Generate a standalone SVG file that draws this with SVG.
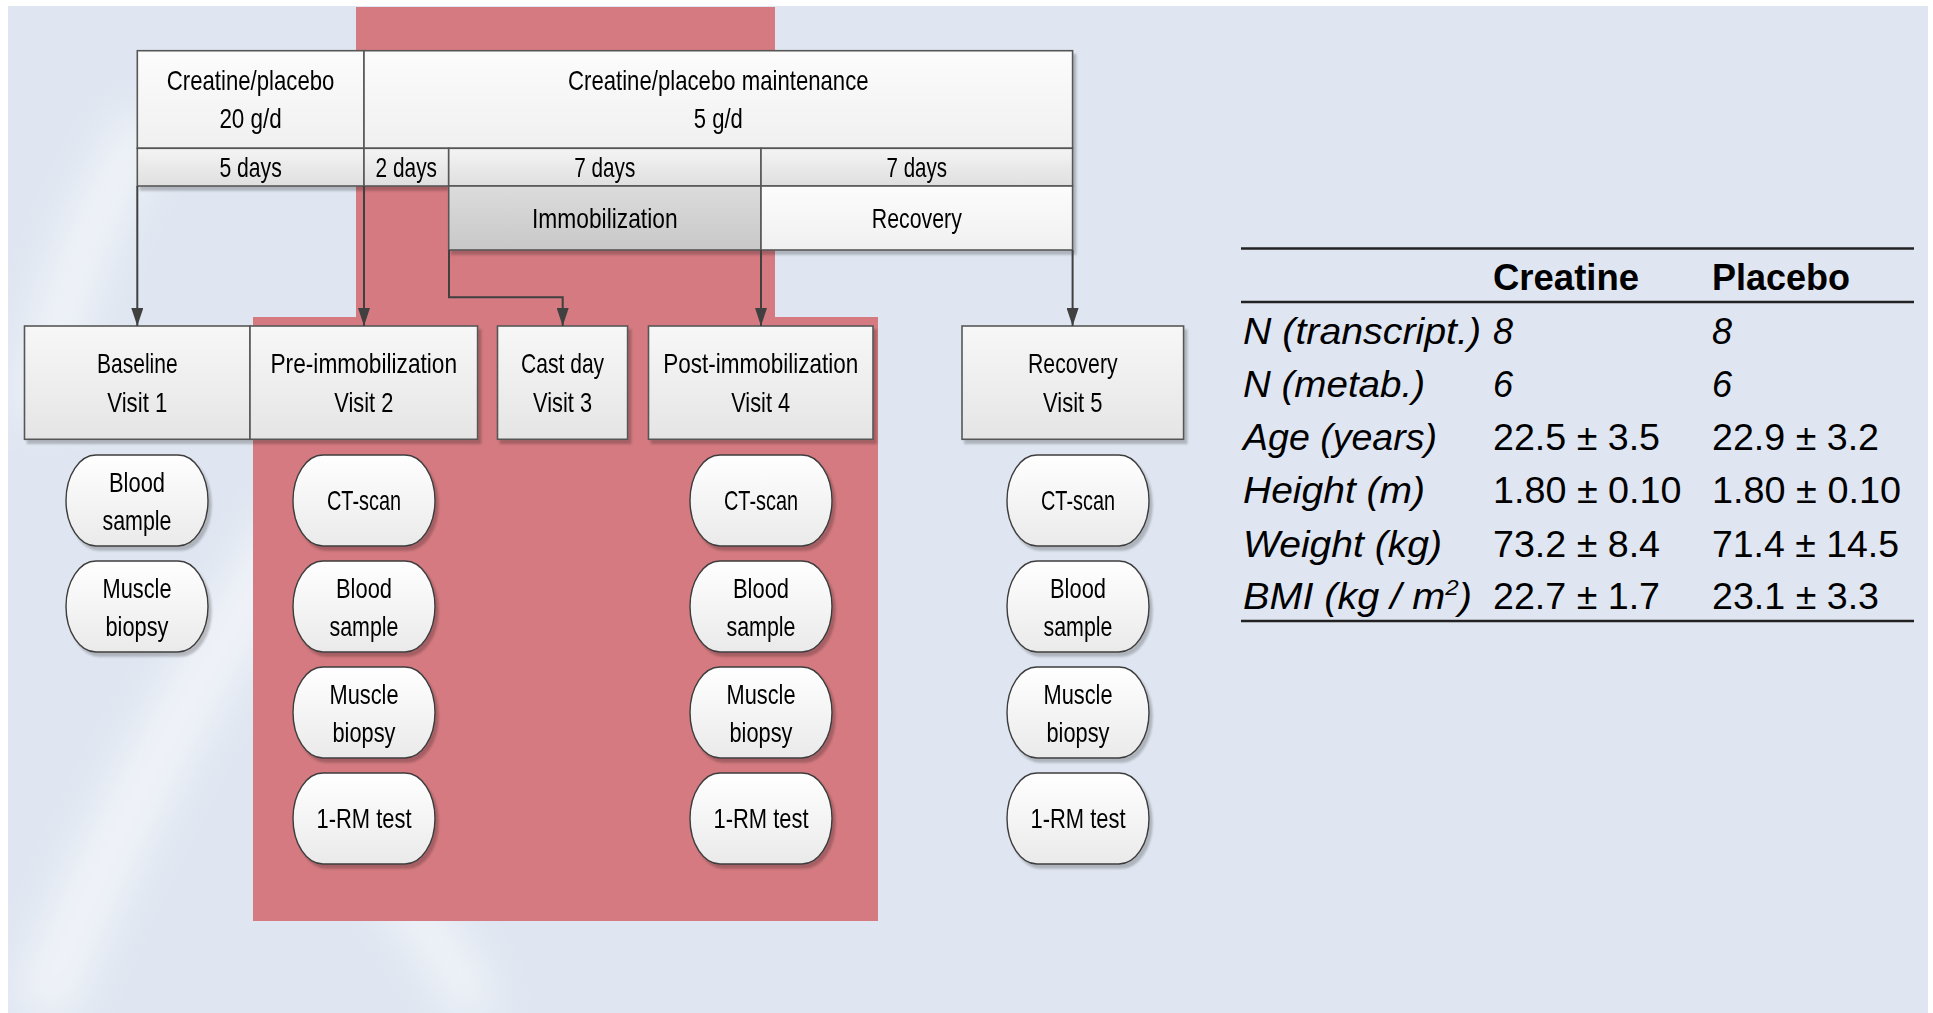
<svg xmlns="http://www.w3.org/2000/svg" width="1933" height="1013" viewBox="0 0 1933 1013">
<style>
.t{font-family:"Liberation Sans",Arial,sans-serif;font-size:28px;fill:#000;text-anchor:middle}
.tb{font-family:"Liberation Sans",Arial,sans-serif;font-size:36px;fill:#000}
.it{font-style:italic}
.bd{font-weight:bold}
.cell{stroke:#575757;stroke-width:1.6}
.box{fill:url(#gVisit);stroke:#575757;stroke-width:1.6}
.oval{fill:url(#gOval);stroke:#3c3c3c;stroke-width:1.4}
.conn{fill:none;stroke:#404040;stroke-width:2;marker-end:url(#ah)}
.rule{stroke:#222;stroke-width:2.6}
</style>
<defs>
<linearGradient id="gTop" x1="0" y1="0" x2="0" y2="1"><stop offset="0" stop-color="#fcfcfc"/><stop offset="1" stop-color="#f0f0f0"/></linearGradient>
<linearGradient id="gDays" x1="0" y1="0" x2="0" y2="1"><stop offset="0" stop-color="#f4f4f4"/><stop offset="1" stop-color="#dfdfdf"/></linearGradient>
<linearGradient id="gImm" x1="0" y1="0" x2="0" y2="1"><stop offset="0" stop-color="#dcdcdc"/><stop offset="1" stop-color="#c8c8c8"/></linearGradient>
<linearGradient id="gVisit" x1="0" y1="0" x2="0" y2="1"><stop offset="0" stop-color="#f7f7f7"/><stop offset="1" stop-color="#e5e5e5"/></linearGradient>
<linearGradient id="gOval" x1="0" y1="0" x2="0" y2="1"><stop offset="0" stop-color="#ffffff"/><stop offset="1" stop-color="#eaeaea"/></linearGradient>
<filter id="sh" x="-10%" y="-10%" width="130%" height="140%"><feDropShadow dx="3" dy="4" stdDeviation="1.2" flood-color="#000" flood-opacity="0.22"/></filter>
<filter id="blur" x="-50%" y="-50%" width="200%" height="200%"><feGaussianBlur stdDeviation="22"/></filter>
<marker id="ah" markerUnits="userSpaceOnUse" viewBox="0 0 18 12" markerWidth="18" markerHeight="12" refX="18" refY="6" orient="auto"><path d="M0,0 L18,6 L0,12 z" fill="#404040"/></marker>
</defs>

<rect x="0" y="0" width="1933" height="1013" fill="#ffffff"/>
<rect x="8" y="6" width="1920" height="1007" fill="#dfe6f1"/>
<g opacity="0.55" filter="url(#blur)" fill="none" stroke="#ffffff">
<path d="M150,120 Q60,260 40,420" stroke-width="50"/>
<path d="M300,520 Q140,760 40,1013" stroke-width="60"/>
<path d="M330,820 Q420,900 480,1013" stroke-width="45"/>
</g>

<path id="immobilization-zone" d="M356,7 H775 V317 H878 V921 H253 V317 H356 Z" fill="#d47a80"/>

<g id="timeline" filter="url(#sh)">
<g id="node-loading"><rect class="cell" x="137.3" y="50.7" width="226.7" height="97.6" fill="url(#gTop)"/>
<text class="t" x="250.6" y="90" textLength="167.6" lengthAdjust="spacingAndGlyphs">Creatine/placebo</text>
<text class="t" x="250.6" y="128.3" textLength="62.4" lengthAdjust="spacingAndGlyphs">20 g/d</text></g>
<g id="node-maintenance"><rect class="cell" x="364" y="50.7" width="708.6" height="97.6" fill="url(#gTop)"/>
<text class="t" x="718.3" y="90" textLength="300.6" lengthAdjust="spacingAndGlyphs">Creatine/placebo maintenance</text>
<text class="t" x="718.3" y="128.3" textLength="49" lengthAdjust="spacingAndGlyphs">5 g/d</text></g>
<g id="node-5days"><rect class="cell" x="137.3" y="148.3" width="226.7" height="37.7" fill="url(#gDays)"/>
<text class="t" x="250.6" y="177" textLength="62.4" lengthAdjust="spacingAndGlyphs">5 days</text></g>
<g id="node-2days"><rect class="cell" x="364" y="148.3" width="84.7" height="37.7" fill="url(#gDays)"/>
<text class="t" x="406.3" y="177" textLength="61.4" lengthAdjust="spacingAndGlyphs">2 days</text></g>
<g id="node-7days-immob"><rect class="cell" x="448.7" y="148.3" width="312.3" height="37.7" fill="url(#gDays)"/>
<text class="t" x="604.8" y="177" textLength="61" lengthAdjust="spacingAndGlyphs">7 days</text></g>
<g id="node-7days-recovery"><rect class="cell" x="761" y="148.3" width="311.6" height="37.7" fill="url(#gDays)"/>
<text class="t" x="916.8" y="177" textLength="60.5" lengthAdjust="spacingAndGlyphs">7 days</text></g>
<g id="node-immobilization"><rect class="cell" x="448.7" y="186" width="312.3" height="64" fill="url(#gImm)"/>
<text class="t" x="604.8" y="228.3" textLength="145.6" lengthAdjust="spacingAndGlyphs">Immobilization</text></g>
<g id="node-recovery-phase"><rect class="cell" x="761" y="186" width="311.6" height="64" fill="url(#gTop)"/>
<text class="t" x="916.8" y="228.3" textLength="90" lengthAdjust="spacingAndGlyphs">Recovery</text></g>
</g>

<g id="visits" filter="url(#sh)">
<g id="node-visit1"><rect class="box" x="24.5" y="326" width="225.5" height="113.3"/>
<text class="t" x="137.3" y="372.7" textLength="80.6" lengthAdjust="spacingAndGlyphs">Baseline</text>
<text class="t" x="137.3" y="411.7" textLength="60" lengthAdjust="spacingAndGlyphs">Visit 1</text></g>
<g id="node-visit2"><rect class="box" x="250" y="326" width="227.6" height="113.3"/>
<text class="t" x="363.8" y="372.7" textLength="186.6" lengthAdjust="spacingAndGlyphs">Pre-immobilization</text>
<text class="t" x="363.8" y="411.7" textLength="59" lengthAdjust="spacingAndGlyphs">Visit 2</text></g>
<g id="node-visit3"><rect class="box" x="497.5" y="326" width="130.1" height="113.3"/>
<text class="t" x="562.6" y="372.7" textLength="83" lengthAdjust="spacingAndGlyphs">Cast day</text>
<text class="t" x="562.6" y="411.7" textLength="59" lengthAdjust="spacingAndGlyphs">Visit 3</text></g>
<g id="node-visit4"><rect class="box" x="648.5" y="326" width="224.5" height="113.3"/>
<text class="t" x="760.7" y="372.7" textLength="195" lengthAdjust="spacingAndGlyphs">Post-immobilization</text>
<text class="t" x="760.7" y="411.7" textLength="59" lengthAdjust="spacingAndGlyphs">Visit 4</text></g>
<g id="node-visit5"><rect class="box" x="962" y="326" width="221.6" height="113.3"/>
<text class="t" x="1072.8" y="372.7" textLength="89.5" lengthAdjust="spacingAndGlyphs">Recovery</text>
<text class="t" x="1072.8" y="411.7" textLength="59.5" lengthAdjust="spacingAndGlyphs">Visit 5</text></g>
</g>

<g id="measurements" filter="url(#sh)">
<g id="node-v1-blood"><rect class="oval" x="66" y="455" width="142" height="91" rx="30" ry="45.5"/>
<text class="t" x="137" y="491.5" textLength="56" lengthAdjust="spacingAndGlyphs">Blood</text>
<text class="t" x="137" y="530" textLength="69" lengthAdjust="spacingAndGlyphs">sample</text></g>
<g id="node-v1-muscle"><rect class="oval" x="66" y="561" width="142" height="91" rx="30" ry="45.5"/>
<text class="t" x="137" y="597.5" textLength="69" lengthAdjust="spacingAndGlyphs">Muscle</text>
<text class="t" x="137" y="636" textLength="63" lengthAdjust="spacingAndGlyphs">biopsy</text></g>

<g id="node-v2-ct"><rect class="oval" x="293" y="455" width="142" height="91" rx="30" ry="45.5"/>
<text class="t" x="364" y="510" textLength="74" lengthAdjust="spacingAndGlyphs">CT-scan</text></g>
<g id="node-v2-blood"><rect class="oval" x="293" y="561" width="142" height="91" rx="30" ry="45.5"/>
<text class="t" x="364" y="597.5" textLength="56" lengthAdjust="spacingAndGlyphs">Blood</text>
<text class="t" x="364" y="636" textLength="69" lengthAdjust="spacingAndGlyphs">sample</text></g>
<g id="node-v2-muscle"><rect class="oval" x="293" y="667" width="142" height="91" rx="30" ry="45.5"/>
<text class="t" x="364" y="703.5" textLength="69" lengthAdjust="spacingAndGlyphs">Muscle</text>
<text class="t" x="364" y="742" textLength="63" lengthAdjust="spacingAndGlyphs">biopsy</text></g>
<g id="node-v2-1rm"><rect class="oval" x="293" y="773" width="142" height="91" rx="30" ry="45.5"/>
<text class="t" x="364" y="828" textLength="95" lengthAdjust="spacingAndGlyphs">1-RM test</text></g>

<g id="node-v4-ct"><rect class="oval" x="690" y="455" width="142" height="91" rx="30" ry="45.5"/>
<text class="t" x="761" y="510" textLength="74" lengthAdjust="spacingAndGlyphs">CT-scan</text></g>
<g id="node-v4-blood"><rect class="oval" x="690" y="561" width="142" height="91" rx="30" ry="45.5"/>
<text class="t" x="761" y="597.5" textLength="56" lengthAdjust="spacingAndGlyphs">Blood</text>
<text class="t" x="761" y="636" textLength="69" lengthAdjust="spacingAndGlyphs">sample</text></g>
<g id="node-v4-muscle"><rect class="oval" x="690" y="667" width="142" height="91" rx="30" ry="45.5"/>
<text class="t" x="761" y="703.5" textLength="69" lengthAdjust="spacingAndGlyphs">Muscle</text>
<text class="t" x="761" y="742" textLength="63" lengthAdjust="spacingAndGlyphs">biopsy</text></g>
<g id="node-v4-1rm"><rect class="oval" x="690" y="773" width="142" height="91" rx="30" ry="45.5"/>
<text class="t" x="761" y="828" textLength="95" lengthAdjust="spacingAndGlyphs">1-RM test</text></g>

<g id="node-v5-ct"><rect class="oval" x="1007" y="455" width="142" height="91" rx="30" ry="45.5"/>
<text class="t" x="1078" y="510" textLength="74" lengthAdjust="spacingAndGlyphs">CT-scan</text></g>
<g id="node-v5-blood"><rect class="oval" x="1007" y="561" width="142" height="91" rx="30" ry="45.5"/>
<text class="t" x="1078" y="597.5" textLength="56" lengthAdjust="spacingAndGlyphs">Blood</text>
<text class="t" x="1078" y="636" textLength="69" lengthAdjust="spacingAndGlyphs">sample</text></g>
<g id="node-v5-muscle"><rect class="oval" x="1007" y="667" width="142" height="91" rx="30" ry="45.5"/>
<text class="t" x="1078" y="703.5" textLength="69" lengthAdjust="spacingAndGlyphs">Muscle</text>
<text class="t" x="1078" y="742" textLength="63" lengthAdjust="spacingAndGlyphs">biopsy</text></g>
<g id="node-v5-1rm"><rect class="oval" x="1007" y="773" width="142" height="91" rx="30" ry="45.5"/>
<text class="t" x="1078" y="828" textLength="95" lengthAdjust="spacingAndGlyphs">1-RM test</text></g>
</g>

<g id="connectors">
<path class="conn" d="M137.3,186 V326"/>
<path class="conn" d="M364,186 V326"/>
<path class="conn" d="M449,250 V297.3 H562.7 V326"/>
<path class="conn" d="M761,250 V326"/>
<path class="conn" d="M1072.6,250 V326"/>
</g>

<g id="node-table">
<line class="rule" x1="1241" y1="248.5" x2="1914" y2="248.5"/>
<line class="rule" x1="1241" y1="302" x2="1914" y2="302"/>
<line class="rule" x1="1241" y1="621" x2="1914" y2="621"/>
<text class="tb bd" x="1493" y="290" textLength="146" lengthAdjust="spacingAndGlyphs">Creatine</text>
<text class="tb bd" x="1712" y="290" textLength="138" lengthAdjust="spacingAndGlyphs">Placebo</text>

<text class="tb it" x="1243" y="344" textLength="238" lengthAdjust="spacingAndGlyphs">N (transcript.)</text>
<text class="tb it" x="1493" y="344">8</text>
<text class="tb it" x="1712" y="344">8</text>

<text class="tb it" x="1243" y="397" textLength="182" lengthAdjust="spacingAndGlyphs">N (metab.)</text>
<text class="tb it" x="1493" y="397">6</text>
<text class="tb it" x="1712" y="397">6</text>

<text class="tb it" x="1243" y="450" textLength="194" lengthAdjust="spacingAndGlyphs">Age (years)</text>
<text class="tb" x="1493" y="450" textLength="167" lengthAdjust="spacingAndGlyphs">22.5 ± 3.5</text>
<text class="tb" x="1712" y="450" textLength="167" lengthAdjust="spacingAndGlyphs">22.9 ± 3.2</text>

<text class="tb it" x="1243" y="503" textLength="182" lengthAdjust="spacingAndGlyphs">Height (m)</text>
<text class="tb" x="1493" y="503" textLength="188.5" lengthAdjust="spacingAndGlyphs">1.80 ± 0.10</text>
<text class="tb" x="1712" y="503" textLength="189" lengthAdjust="spacingAndGlyphs">1.80 ± 0.10</text>

<text class="tb it" x="1243" y="556.5" textLength="199" lengthAdjust="spacingAndGlyphs">Weight (kg)</text>
<text class="tb" x="1493" y="556.5" textLength="167" lengthAdjust="spacingAndGlyphs">73.2 ± 8.4</text>
<text class="tb" x="1712" y="556.5" textLength="187" lengthAdjust="spacingAndGlyphs">71.4 ± 14.5</text>

<text class="tb it" x="1243" y="609" textLength="229" lengthAdjust="spacingAndGlyphs">BMI (kg / m<tspan dy="-14" font-size="22">2</tspan><tspan dy="14">)</tspan></text>
<text class="tb" x="1493" y="609" textLength="167" lengthAdjust="spacingAndGlyphs">22.7 ± 1.7</text>
<text class="tb" x="1712" y="609" textLength="167" lengthAdjust="spacingAndGlyphs">23.1 ± 3.3</text>
</g>
</svg>
